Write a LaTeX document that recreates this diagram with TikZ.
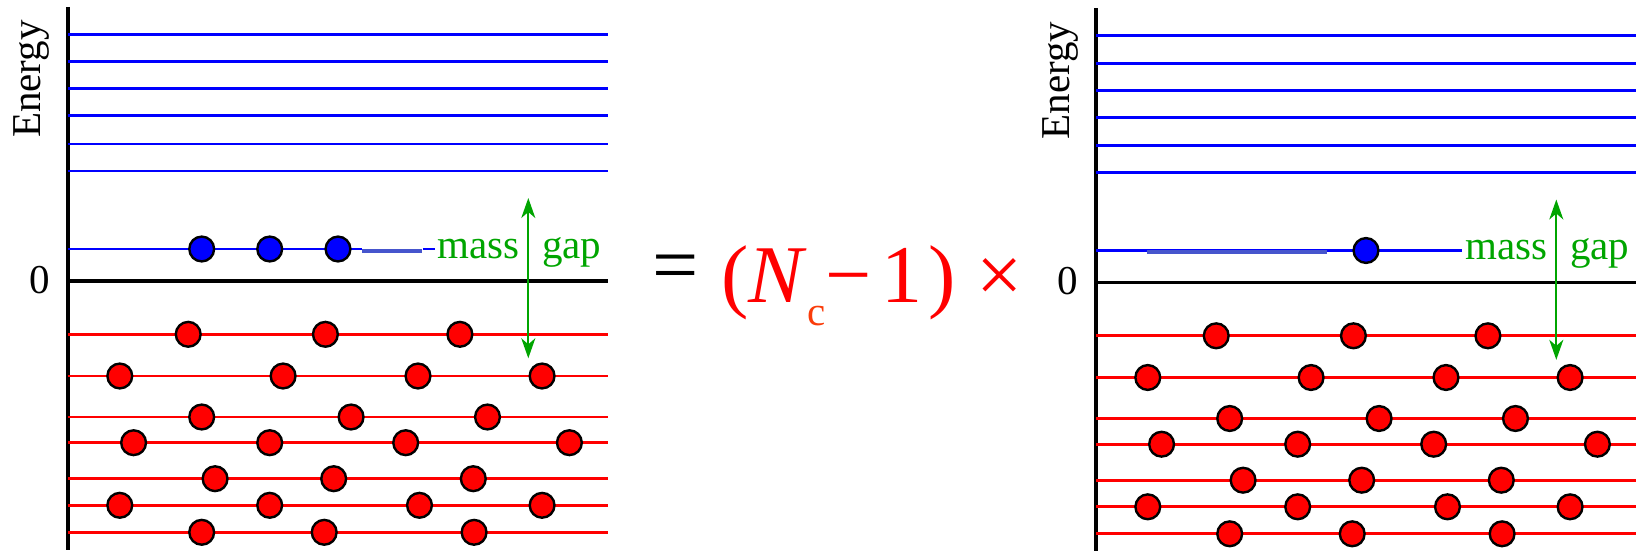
\documentclass[tikz,border=0pt]{standalone}
\usepackage{fontspec}
\setmainfont{Liberation Serif}
\usetikzlibrary{arrows.meta}
\definecolor{lvlblue}{RGB}{0,0,255}
\definecolor{lvlred}{RGB}{255,0,0}
\definecolor{gapgreen}{RGB}{0,165,0}
\definecolor{smearblue}{RGB}{70,85,205}
\definecolor{subred}{RGB}{250,60,10}

\begin{document}
\begin{tikzpicture}[x=0.5pt,y=-0.5pt,>=Stealth,
  axisline/.style={line width=1.6pt},
  bluelevel/.style={lvlblue,line width=1.4pt},
  smear/.style={smearblue,line width=2pt},
  redlevel/.style={lvlred,line width=1.4pt},
  dot/.style={circle,draw=black,line width=1.2pt,minimum size=12.4pt,inner sep=0pt},
  bluedot/.style={dot,fill=lvlblue},
  reddot/.style={dot,fill=lvlred},
  lbl/.style={font=\fontsize{20.5pt}{24pt}\selectfont,inner sep=0pt},
  big/.style={font=\fontsize{41pt}{48pt}\selectfont,inner sep=0pt},
  gaparrow/.style={<->,gapgreen,line width=1pt,>={Stealth[length=10pt,width=7pt,inset=3pt]}}]
  \useasboundingbox (0,0) rectangle (1639,551);

  % two panels, same frame and Fermi sea
  \foreach \p/\dx/\dy in {L/0/0,R/1028/1.5}{
    \begin{scope}[shift={(\dx,\dy)}]
      \draw[axisline] (68,7) -- (68,550);
      \draw[axisline] (68,281) -- (608,281);
      \node[lbl] (zero\p) at (40,280) {0};
      \node[lbl,rotate=90] (energy\p) at (32,79) {Energy};
      \foreach \y in {34.3,61.7,88.7,115.7,144,171}
        \draw[bluelevel] (68,\y) -- (608,\y);
      \foreach \y/\xs [count=\r] in {334.3/{188.2,325.4,459.9},
          376/{119.8,283.1,418,542.1}, 417/{201.7,351.1,487.5},
          442.7/{133.6,269.7,405.7,569.4}, 478.7/{215.1,333.7,473.3},
          505.3/{119.8,269.7,419.5,542.1}, 532.3/{201.7,324.2,474.1}}{
        \draw[redlevel] (68,\y) -- (608,\y);
        \foreach \x [count=\i] in \xs
          \node[reddot] (red\p\r\i) at (\x,\y) {};
      }
      \coordinate (gaptop\p) at (528.3,198);
      \coordinate (gapbot\p) at (528.3,358.3);
      \draw[gaparrow] (gaptop\p) -- (gapbot\p);
      \node[lbl,text=gapgreen,anchor=base west] (mass\p) at (437,258.3) {mass};
      \node[lbl,text=gapgreen,anchor=base west] (gap\p) at (541.7,258.3) {gap};
    \end{scope}
  }

  % lowest level, left
  \draw[bluelevel] (68,249) -- (362,249);
  \draw[smear] (362,250.5) -- (422,250.5);
  \draw[bluelevel] (423,249) -- (435,249);
  \foreach \x [count=\i] in {201.7,269.7,338}
    \node[bluedot] (blueL\i) at (\x,249) {};

  % lowest level, right
  \draw[bluelevel] (1096,250.5) -- (1462,250.5);
  \draw[smear] (1146.5,252) -- (1327,252);
  \node[bluedot] (blueR1) at (1366,250.5) {};

  \node[big] (equals) at (676,274) {=};
  \node[big,text=lvlred,anchor=base west] (factor) at (721,302)
    {(\textit{N}\raisebox{-11.5pt}{\fontsize{20.5pt}{24pt}\selectfont\color{subred}c}−\kern5pt1\kern3pt) ×};
\end{tikzpicture}
\end{document}
